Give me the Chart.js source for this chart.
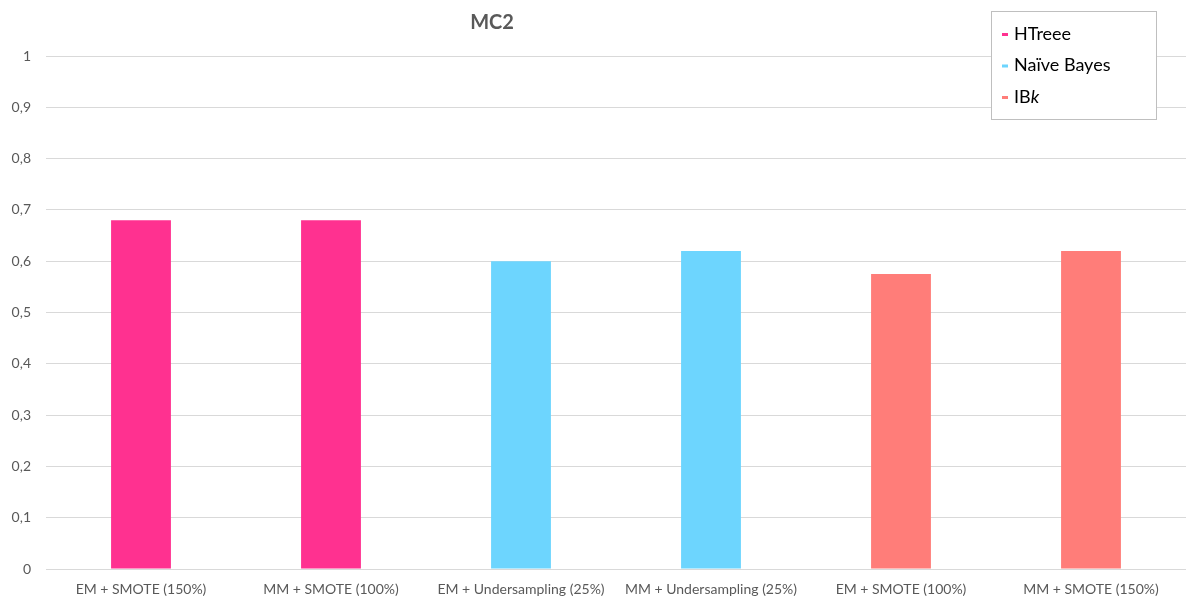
<!DOCTYPE html>
<html>
<head>
<meta charset="utf-8">
<script src="https://cdn.jsdelivr.net/npm/chart.js@4.4.1/dist/chart.umd.min.js"></script>
<style>
  html, body { margin: 0; padding: 0; background: #ffffff; overflow: hidden; }
  #wrap { position: relative; width: 1186px; height: 599px; }
</style>
</head>
<body>
<div id="wrap"><canvas id="c" width="1186" height="599"></canvas></div>
<script>
// Categories along the x axis
const categories = [
  'EM + SMOTE (150%)',
  'MM + SMOTE (100%)',
  'EM + Undersampling (25%)',
  'MM + Undersampling (25%)',
  'EM + SMOTE (100%)',
  'MM + SMOTE (150%)'
];

// One series per classifier; each only has values for its own pair of categories
const seriesNames = ['HTreee', 'Naïve Bayes', 'IBk'];
const htreeValues = [0.68, 0.68, null, null, null, null];
const naiveBayesValues = [null, null, 0.60, 0.62, null, null];
const ibkValues = [null, null, null, null, 0.575, 0.62];
const seriesColors = ['#FF3190', '#6DD5FE', '#FF7D79'];

// Y tick values
const yTicks = [0, 0.1, 0.2, 0.3, 0.4, 0.5, 0.6, 0.7, 0.8, 0.9, 1];

const chartTitle = 'MC2';
const FONT = 'Lato, "Open Sans", sans-serif';

const fmt = v => parseFloat(v.toFixed(1)).toString().replace('.', ',');

// Title drawn above the plot, offset left as the legend sits at the top right
const titlePlugin = {
  id: 'sideTitle',
  afterDraw(chart) {
    const ctx = chart.ctx;
    ctx.save();
    ctx.font = 'bold 20px ' + FONT;
    ctx.fillStyle = '#595959';
    ctx.textAlign = 'center';
    ctx.textBaseline = 'middle';
    ctx.fillText(chartTitle, 492, 23);
    ctx.restore();
  }
};

// Boxed legend overlapping the top right of the plot
const boxLegendPlugin = {
  id: 'boxLegend',
  afterDraw(chart) {
    const ctx = chart.ctx;
    const x = 991.5, y = 11.5, w = 165, h = 108;
    ctx.save();
    ctx.fillStyle = '#ffffff';
    ctx.fillRect(x, y, w, h);
    ctx.strokeStyle = '#bfbfbf';
    ctx.lineWidth = 1;
    ctx.strokeRect(x, y, w, h);
    ctx.textBaseline = 'middle';
    chart.data.datasets.forEach((ds, i) => {
      const cy = 34 + i * 31.5;
      ctx.fillStyle = ds.backgroundColor;
      ctx.fillRect(1002, cy - 1, 6, 3);
      ctx.fillStyle = '#000000';
      let tx = 1014;
      const label = ds.label;
      const italicTail = label === 'IBk' ? 'k' : '';
      const head = italicTail ? label.slice(0, -italicTail.length) : label;
      ctx.font = '18px ' + FONT;
      ctx.fillText(head, tx, cy);
      if (italicTail) {
        tx += ctx.measureText(head).width;
        ctx.font = 'italic 18px ' + FONT;
        ctx.fillText(italicTail, tx, cy);
      }
    });
    ctx.restore();
  }
};

const seriesValues = [htreeValues, naiveBayesValues, ibkValues];

new Chart(document.getElementById('c'), {
  type: 'bar',
  data: {
    labels: categories,
    datasets: seriesNames.map((name, i) => ({
      label: name,
      data: seriesValues[i],
      backgroundColor: seriesColors[i],
      borderWidth: 0,
      grouped: false,
      categoryPercentage: 1,
      barPercentage: 0.315
    }))
  },
  options: {
    responsive: false,
    animation: false,
    layout: { padding: { top: 56, right: 0, left: 0, bottom: 0 } },
    plugins: {
      legend: { display: false },
      title: { display: false },
      tooltip: { enabled: false }
    },
    scales: {
      x: {
        grid: { display: false, drawTicks: false },
        border: { display: false },
        ticks: {
          color: '#595959',
          font: { family: FONT, size: 14 },
          maxRotation: 0,
          autoSkip: false,
          padding: 12
        },
        afterFit(scale) { scale.height = 30; }
      },
      y: {
        min: 0,
        max: 1,
        afterBuildTicks(scale) { scale.ticks = yTicks.map(v => ({ value: v })); },
        grid: { color: '#d9d9d9', lineWidth: 1, drawTicks: false },
        border: { display: false },
        ticks: {
          color: '#595959',
          font: { family: FONT, size: 14 },
          padding: 15,
          callback: v => fmt(v)
        },
        afterFit(scale) { scale.width = 46; }
      }
    }
  },
  plugins: [titlePlugin, boxLegendPlugin]
});
</script>
</body>
</html>
